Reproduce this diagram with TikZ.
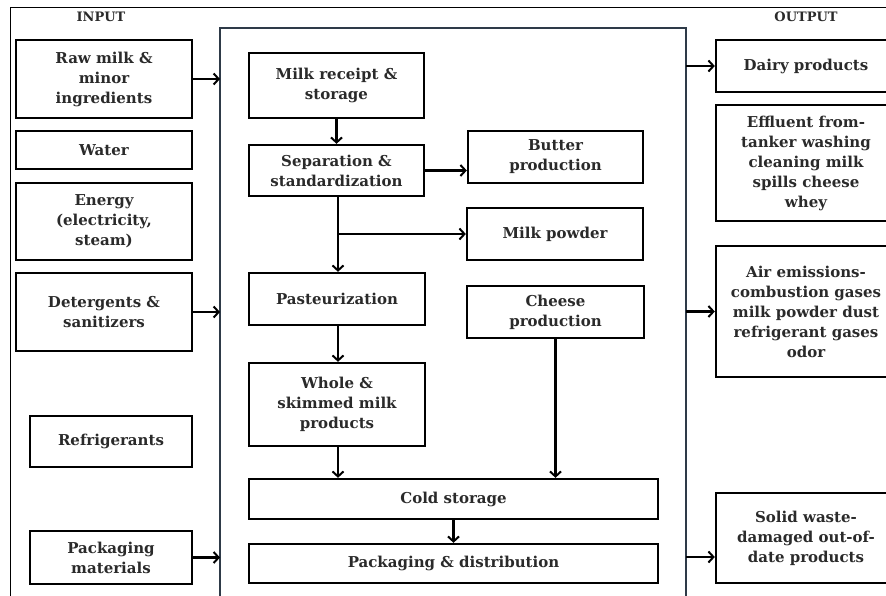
\documentclass[tikz,border=0pt]{standalone}
\usepackage{fontspec}
\setmainfont{DejaVu Serif}
\usetikzlibrary{arrows.meta}
\definecolor{txt}{HTML}{2A2A2A}
\definecolor{frame}{HTML}{2E3A48}
\tikzset{
  box/.style={draw=black, line width=2.4pt, align=center, inner sep=2pt,
    font=\fontsize{15}{20}\selectfont\bfseries, text=txt},
  arr/.style={line width=2.4pt, -{Straight Barb[length=5pt,width=11pt,line width=2pt]}},
  lbl/.style={font=\fontsize{13}{15}\selectfont\bfseries, text=txt},
}
\begin{document}
\begin{tikzpicture}[x=1pt,y=-1pt]
\useasboundingbox (0,0) rectangle (886,596);
\clip (0,0) rectangle (886,596);
% outer frame
\draw[line width=0.9pt] (10,600) -- (10,7) -- (890,7);
% main process frame
\draw[line width=1.6pt, draw=frame] (220,600) -- (220,28) -- (686,28) -- (686,600);
\coordinate (mainL) at (220,300);
\coordinate (mainR) at (686,300);
% labels
\node[lbl] (inlbl) at (101,17) {INPUT};
\node[lbl] (outlbl) at (806,17) {OUTPUT};
% inputs
\node[box, minimum width=176pt, minimum height=78pt] (raw) at (104,79) {Raw milk \&\\minor\\ingredients};
\node[box, minimum width=176pt, minimum height=38pt] (water) at (104,150) {Water};
\node[box, minimum width=176pt, minimum height=77pt] (energy) at (104,221.5) {Energy\\(electricity,\\steam)};
\node[box, minimum width=176pt, minimum height=78pt] (deterg) at (104,312) {Detergents \&\\sanitizers};
\node[box, minimum width=162pt, minimum height=51pt] (refrig) at (111,441.5) {Refrigerants};
\node[box, minimum width=162pt, minimum height=53pt] (packmat) at (111,557.5) {Packaging\\materials};
% process
\node[box, minimum width=175pt, minimum height=65pt] (receipt) at (336.5,85.5) {Milk receipt \&\\storage};
\node[box, minimum width=175pt, minimum height=51pt] (sep) at (336.5,170.5) {Separation \&\\standardization};
\node[box, minimum width=175pt, minimum height=52pt] (butter) at (555.5,157) {Butter\\production};
\node[box, minimum width=176pt, minimum height=52pt] (powder) at (555,234) {Milk powder};
\node[box, minimum width=176pt, minimum height=52pt] (past) at (337,299) {Pasteurization};
\node[box, minimum width=177pt, minimum height=52pt] (cheese) at (555.5,312) {Cheese\\production};
\node[box, minimum width=176pt, minimum height=83pt] (whole) at (337,404.5) {Whole \&\\skimmed milk\\products};
\node[box, minimum width=409pt, minimum height=40pt] (cold) at (453.5,499) {Cold storage};
\node[box, minimum width=409pt, minimum height=39pt] (packd) at (453.5,563.5) {Packaging \& distribution};
% outputs
\node[box, minimum width=180pt, minimum height=52pt] (dairy) at (806,66) {Dairy products};
\node[box, minimum width=180pt, minimum height=116pt] (effl) at (806,163) {Effluent from-\\tanker washing\\cleaning milk\\spills cheese\\whey};
\node[box, minimum width=180pt, minimum height=131pt] (air) at (806,311.5) {Air emissions-\\combustion gases\\milk powder dust\\refrigerant gases\\odor};
\node[box, minimum width=180pt, minimum height=90pt] (solid) at (806,538) {Solid waste-\\damaged out-of-\\date products};
% input arrows
\draw[arr] (raw.east) -- (raw.east -| mainL);
\draw[arr] (deterg.east) -- (deterg.east -| mainL);
\draw[arr] (packmat.east) -- (packmat.east -| mainL);
% output arrows
\draw[arr] (dairy.west -| mainR) -- (dairy.west);
\draw[arr] (air.west -| mainR) -- (air.west);
\coordinate (solidin) at ([yshift=-19pt]solid.west);
\draw[arr] (solidin -| mainR) -- (solidin);
% process arrows
\draw[arr] (receipt.south) -- (sep.north);
\draw[arr] (sep.east) -- (butter.west |- sep.east);
\coordinate (branch) at (338,234);
\draw[arr] (sep.south -| branch) -- (past.north -| branch);
\draw[arr] (branch) -- (powder.west);
\draw[arr] (past.south -| branch) -- (whole.north -| branch);
\draw[arr] (whole.south -| branch) -- (cold.north -| branch);
\draw[arr] (cheese.south) -- (cold.north -| cheese.south);
\draw[arr] (cold.south) -- (packd.north);
\end{tikzpicture}
\end{document}
